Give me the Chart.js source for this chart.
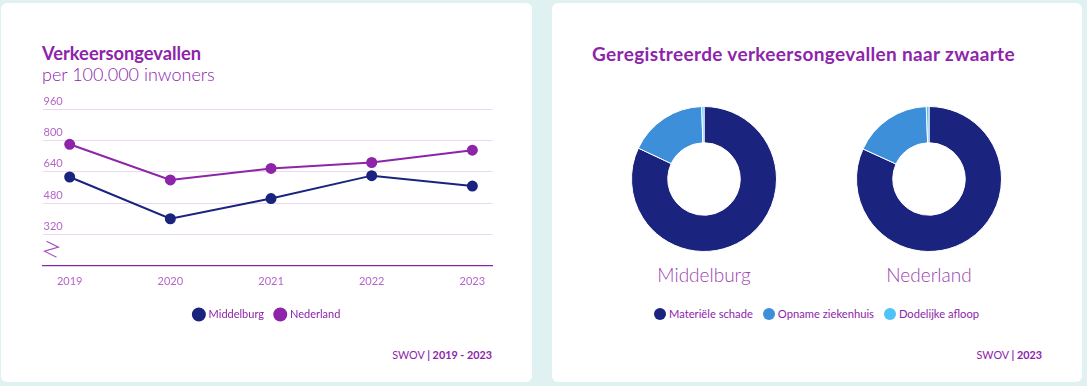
<!DOCTYPE html>
<html>
<head>
<meta charset="utf-8">
<script src="https://cdn.jsdelivr.net/npm/chart.js@4/dist/chart.umd.min.js"></script>
<style>
  html, body { margin: 0; padding: 0; }
  body { width: 1087px; height: 386px; background: #e0f1f1; position: relative; overflow: hidden; font-family: Lato, "Noto Sans", sans-serif; color: #8e24aa; }
  .card { position: absolute; background: #fff; border-radius: 6px; top: 3px; height: 379px; }
  #left { left: 1px; width: 531px; }
  #right { left: 552px; width: 530px; }
  h2 { position: absolute; margin: 0; font-size: 18.3px; font-weight: 700; color: #8e24aa; white-space: nowrap; }
  .sub { position: absolute; font-size: 18px; font-weight: 300; color: #8e24aa; white-space: nowrap; }
  .src { position: absolute; font-size: 10.8px; color: #8e24aa; white-space: nowrap; }
  .src b { font-weight: 700; }
  .dlabel { position: absolute; font-size: 19px; font-weight: 300; color: #9c3fb0; text-align: center; width: 200px; }
  .legend { position: absolute; font-size: 11.2px; color: #8e24aa; white-space: nowrap; display: flex; }
  .legend span { display: inline-flex; align-items: center; margin-right: 10px; }
  .legend i { display: inline-block; width: 12px; height: 12px; border-radius: 50%; margin-right: 3px; }
</style>
</head>
<body>
<div class="card" id="left">
  <h2 style="left:41px; top:39px;">Verkeersongevallen</h2>
  <div class="sub" style="left:41px; top:60px;">per 100.000 inwoners</div>
  <canvas id="lineChart" style="position:absolute; left:35px; top:92px;" width="463" height="235"></canvas>
  <div class="src" style="right:40px; top:345px;">SWOV <b>| 2019 - 2023</b></div>
</div>
<div class="card" id="right">
  <h2 style="left:40px; top:39px; font-size:19px; letter-spacing:0.35px;">Geregistreerde verkeersongevallen naar zwaarte</h2>
  <canvas id="donut1" style="position:absolute; left:79px; top:103px;" width="146" height="146"></canvas>
  <canvas id="donut2" style="position:absolute; left:304px; top:103px;" width="146" height="146"></canvas>
  <div class="dlabel" style="left:52px; top:260px;">Middelburg</div>
  <div class="dlabel" style="left:277px; top:260px;">Nederland</div>
  <div class="legend" id="donutLegend" style="left:102px; top:304px;"></div>
  <div class="src" style="right:40px; top:345px;">SWOV <b>| 2023</b></div>
</div>
<script>
// line chart data
const years = [2019, 2020, 2021, 2022, 2023];
const middelburg = [613, 400, 503, 620, 567];
const nederland = [780, 598, 657, 687, 750];
const yTicks = [160, 320, 480, 640, 800, 960];

// doughnut data (percentages)
const severityLabels = ['Materiële schade', 'Opname ziekenhuis', 'Dodelijke afloop'];
const severityMiddelburg = [82.0, 17.5, 0.5];
const severityNederland = [81.8, 17.6, 0.6];

const navy = '#1a237e';
const purple = '#8e24aa';
const severityColors = ['#1a237e', '#3d8fd9', '#4fc3f7'];
const fontFamily = 'Lato, "Noto Sans", sans-serif';

// draws the broken axis zigzag in the bottom-left of the plot
const axisBreak = {
    id: 'axisBreak',
    afterDraw(chart) {
        const ctx = chart.ctx;
        const x = chart.chartArea.left + 1;
        const y = chart.scales.y.getPixelForValue(245);
        ctx.save();
        ctx.strokeStyle = '#a64fc0';
        ctx.lineWidth = 1.1;
        ctx.beginPath();
        ctx.moveTo(x + 3, y - 8);
        ctx.lineTo(x + 15, y - 2);
        ctx.lineTo(x + 1, y + 2);
        ctx.lineTo(x + 13, y + 8);
        ctx.stroke();
        ctx.restore();
    }
};

new Chart(document.getElementById('lineChart'), {
    type: 'line',
    data: {
        datasets: [
            {
                label: 'Middelburg',
                data: years.map((y, i) => ({ x: y, y: middelburg[i] })),
                borderColor: navy,
                backgroundColor: navy,
                borderWidth: 2,
                pointRadius: 4.5,
                pointHoverRadius: 4.5,
                tension: 0
            },
            {
                label: 'Nederland',
                data: years.map((y, i) => ({ x: y, y: nederland[i] })),
                borderColor: purple,
                backgroundColor: purple,
                borderWidth: 2,
                pointRadius: 4.5,
                pointHoverRadius: 4.5,
                tension: 0
            }
        ]
    },
    options: {
        responsive: false,
        animation: false,
        layout: { padding: { left: 0, right: 0, top: 14, bottom: 0 } },
        scales: {
            x: {
                type: 'linear',
                min: 2018.73,
                max: 2023.2,
                afterBuildTicks: axis => { axis.ticks = years.map(v => ({ value: v })); },
                grid: { display: false, drawTicks: false },
                border: { display: true, color: '#8e24aa', width: 1.2 },
                ticks: {
                    color: '#b565c8',
                    padding: 9,
                    font: { family: fontFamily, size: 11 },
                    callback: v => String(v),
                    maxRotation: 0
                }
            },
            y: {
                min: 160,
                max: 960,
                afterBuildTicks: axis => { axis.ticks = yTicks.map(v => ({ value: v })); },
                grid: {
                    color: ctx => ctx.tick && ctx.tick.value === 160 ? 'rgba(0,0,0,0)' : '#ead7f0',
                    drawTicks: false,
                    lineWidth: 1
                },
                border: { display: false },
                ticks: {
                    mirror: true,
                    padding: 1,
                    labelOffset: -8,
                    color: '#b565c8',
                    font: { family: fontFamily, size: 11 },
                    callback: v => v === 160 ? '' : String(v)
                }
            }
        },
        plugins: {
            legend: {
                position: 'bottom',
                labels: {
                    usePointStyle: true,
                    pointStyle: 'circle',
                    boxWidth: 8.5,
                    boxHeight: 8.5,
                    padding: 12,
                    color: '#8e24aa',
                    font: { family: fontFamily, size: 11 }
                }
            },
            tooltip: { enabled: false }
        }
    },
    plugins: [axisBreak]
});

function makeDonut(id, values) {
    return new Chart(document.getElementById(id), {
        type: 'doughnut',
        data: {
            labels: severityLabels,
            datasets: [{
                data: values,
                backgroundColor: severityColors,
                borderColor: '#ffffff',
                borderWidth: 1
            }]
        },
        options: {
            responsive: false,
            animation: false,
            cutout: '50%',
            plugins: { legend: { display: false }, tooltip: { enabled: false } }
        }
    });
}
makeDonut('donut1', severityMiddelburg);
makeDonut('donut2', severityNederland);

// shared legend for the two doughnuts
const legendEl = document.getElementById('donutLegend');
severityLabels.forEach((label, i) => {
    const item = document.createElement('span');
    item.innerHTML = '<i style="background:' + severityColors[i] + '"></i>' + label;
    legendEl.appendChild(item);
});
</script>
</body>
</html>
